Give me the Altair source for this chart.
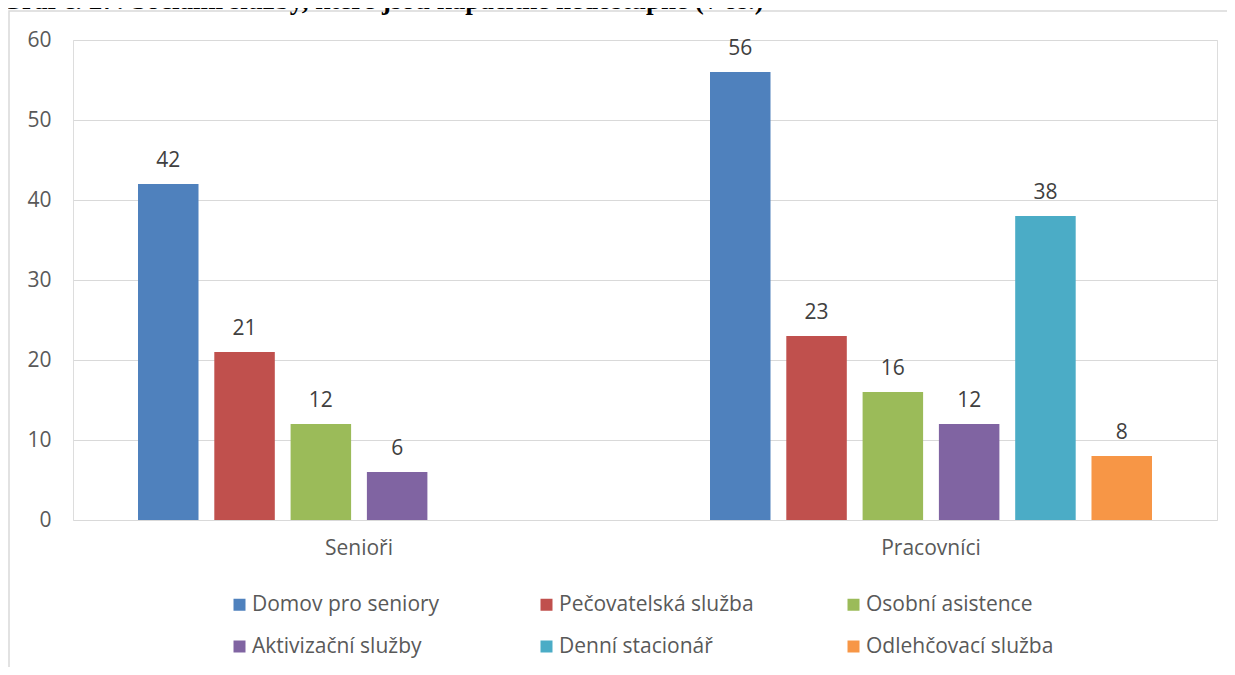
import altair as alt
import pandas as pd

groups = ["Senioři", "Senioři", "Senioři", "Senioři",
          "Pracovníci", "Pracovníci", "Pracovníci", "Pracovníci", "Pracovníci", "Pracovníci"]
services = ["Domov pro seniory", "Pečovatelská služba", "Osobní asistence", "Aktivizační služby",
            "Domov pro seniory", "Pečovatelská služba", "Osobní asistence", "Aktivizační služby",
            "Denní stacionář", "Odlehčovací služba"]
values = [42, 21, 12, 6, 56, 23, 16, 12, 38, 8]

group_order = ["Senioři", "Pracovníci"]
service_order = ["Domov pro seniory", "Pečovatelská služba", "Osobní asistence",
                 "Aktivizační služby", "Denní stacionář", "Odlehčovací služba"]
colors = ["#4F81BD", "#C0504D", "#9BBB59", "#8064A2", "#4BACC6", "#F79646"]
title_text = "Graf č. 27: Sociální služby, které jsou kapacitně nedostupné (v os.)"

df = pd.DataFrame({"group": groups, "service": services, "value": values})

FONT = "Open Sans"
FS = 21
W, H = 1144, 480

x = alt.X("group:N", sort=group_order, title=None,
          scale=alt.Scale(paddingInner=0, paddingOuter=0),
          axis=alt.Axis(labelAngle=0, ticks=False, domain=False, labelPadding=17,
                        labelFontSize=FS, labelColor="#595959", labelFont=FONT))
xo = alt.XOffset("service:N", sort=service_order,
                 scale=alt.Scale(domain=service_order, paddingInner=0.207, paddingOuter=0.852))
y = alt.Y("value:Q", title=None,
          scale=alt.Scale(domain=[0, 60], nice=False),
          axis=alt.Axis(values=[0, 10, 20, 30, 40, 50, 60], ticks=False, domain=False,
                        labelPadding=22, labelFontSize=FS, labelColor="#595959", labelFont=FONT,
                        gridColor="#D9D9D9", gridWidth=1))
color = alt.Color("service:N", sort=service_order,
                  scale=alt.Scale(domain=service_order, range=colors),
                  legend=alt.Legend(title=None, orient="none", legendX=156, legendY=554,
                                    direction="horizontal", columns=3, gridAlign="all",
                                    symbolType="square", symbolSize=144, symbolStrokeWidth=0,
                                    labelFontSize=FS, labelFont=FONT, labelColor="#595959",
                                    labelLimit=400, labelOffset=2, columnPadding=89,
                                    rowPadding=20, padding=0))

bars = alt.Chart(df).mark_bar().encode(x=x, xOffset=xo, y=y, color=color)
labels = alt.Chart(df).mark_text(baseline="alphabetic", dy=-17, fontSize=FS, font=FONT,
                                 color="#404040").encode(x=x, xOffset=xo, y=y, text="value:Q")

frame = alt.Chart(pd.DataFrame({"t": [title_text]})).mark_rect(
    fill=None, stroke="#D9D9D9", strokeWidth=1.5
).encode(x=alt.value(-64), x2=alt.value(1400), y=alt.value(-29), y2=alt.value(900))

title = alt.Chart(pd.DataFrame({"t": [title_text]})).mark_text(
    align="left", baseline="alphabetic", font="Liberation Serif", fontWeight="bold",
    fontSize=27, color="#000000"
).encode(x=alt.value(-72), y=alt.value(-31), text="t:N")

chart = alt.layer(frame, bars, labels, title).properties(
    width=W, height=H,
    autosize=alt.AutoSizeParams(type="none"),
    padding={"left": 65, "top": 32, "right": 10, "bottom": 147},
).configure_view(stroke=None).configure(background="#FFFFFF")

chart.save("out.html", embed_options={"renderer": "svg", "actions": False})
